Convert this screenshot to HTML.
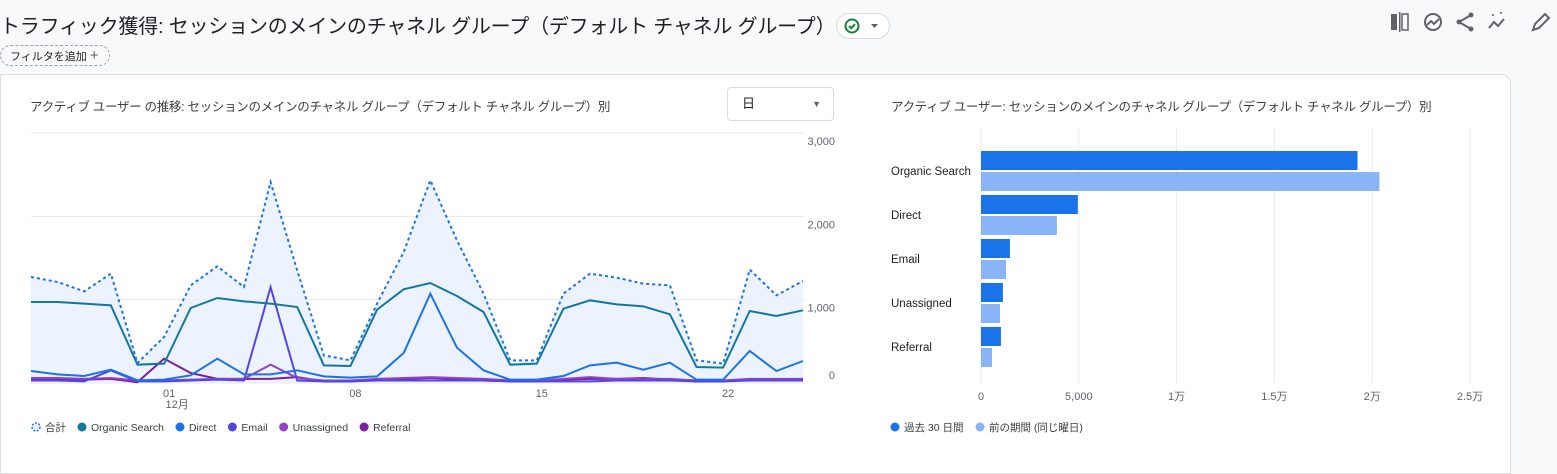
<!DOCTYPE html>
<html><head><meta charset="utf-8"><style>
body{margin:0;width:1557px;height:452px;background:#f8f9fa;font-family:"Liberation Sans","Noto Sans CJK JP",sans-serif;position:relative;overflow:hidden;color:#202124}
.abs{position:absolute}
</style></head><body>
<div class="abs" style="left:0;top:10px;font-size:20px;letter-spacing:-0.2px;color:#202124;white-space:nowrap">トラフィック獲得: セッションのメインのチャネル グループ（デフォルト チャネル グループ）</div>
<div class="abs" style="left:836px;top:13px;width:52px;height:24px;border:1px solid #dadce0;border-radius:13px;background:#fff">
<svg width="52" height="24"><circle cx="15" cy="12" r="6.5" fill="none" stroke="#188038" stroke-width="2"/><path d="M12 12l2.2 2.2 3.8-4" stroke="#188038" stroke-width="2" fill="none"/><path d="M34 10h7l-3.5 4z" fill="#5f6368"/></svg></div>
<div class="abs" style="left:0;top:45px;width:110px;height:21px;border:1px dashed #9aa0a6;border-radius:11px;font-size:11px;line-height:20px;padding-left:9px;box-sizing:border-box">フィルタを追加 <span style="font-size:15px;color:#5f6368">+</span></div>
<svg class="abs" style="left:1385px;top:8px" width="170" height="30">
<g><rect x="6" y="6" width="6" height="16" fill="#5f6368"/><rect x="14" y="4" width="1.5" height="20" fill="#5f6368"/><rect x="17" y="6" width="6" height="16" fill="none" stroke="#5f6368" stroke-width="1.5"/></g>
<g><circle cx="48" cy="14" r="8" fill="none" stroke="#5f6368" stroke-width="2"/><path d="M42 17l4-4 3 3 5-5" stroke="#5f6368" stroke-width="2" fill="none"/></g>
<g><circle cx="86" cy="7" r="2.5" fill="#5f6368"/><circle cx="74" cy="14" r="2.5" fill="#5f6368"/><circle cx="86" cy="21" r="2.5" fill="#5f6368"/><path d="M86 7L74 14 86 21" stroke="#5f6368" stroke-width="2" fill="none"/></g>
<g><path d="M104 20l5-6 4 4 6-7" stroke="#5f6368" stroke-width="2" fill="none"/><circle cx="108" cy="7" r="1" fill="#5f6368"/><circle cx="116" cy="5" r="1" fill="#5f6368"/></g>
<g><path d="M148 22l2-6 10-10 4 4-10 10z" stroke="#5f6368" stroke-width="2" fill="none"/></g>
</svg>
<div class="abs" style="left:0;top:74px;width:1511px;height:400px;background:#fff;border:1px solid #dadce0;border-radius:0 10px 0 0;box-sizing:border-box"></div>
<div class="abs" style="left:30px;top:96px;font-size:12.5px;letter-spacing:-0.3px;color:#3c4043;white-space:nowrap">アクティブ ユーザー の推移: セッションのメインのチャネル グループ（デフォルト チャネル グループ）別</div>
<div class="abs" style="left:727px;top:87px;width:107px;height:34px;border:1px solid #dadce0;border-radius:4px;box-sizing:border-box;font-size:13px;line-height:32px;padding-left:14px">日<span style="position:absolute;right:12px;top:0;font-size:9px;color:#5f6368">▼</span></div>
<div class="abs" style="left:891px;top:96px;font-size:12.5px;letter-spacing:-0.3px;color:#3c4043;white-space:nowrap">アクティブ ユーザー: セッションのメインのチャネル グループ（デフォルト チャネル グループ）別</div>
<svg id="svg" class="abs" style="left:0;top:0" width="1557" height="452"></svg>
<script>
const dates=['','','','','','01','','','','','','','08','','','','','','','15','','','','','','','22','','',''];
const totalVals=[1272,1212,1100,1312,240,552,1172,1400,1152,2412,1352,332,272,952,1572,2432,1712,1072,272,272,1072,1312,1264,1192,1172,272,232,1360,1052,1224];
const organicVals=[972,972,952,932,220,232,900,1020,980,952,912,212,204,880,1124,1200,1044,852,220,232,892,992,944,920,824,192,184,864,804,872];
const directVals=[144,104,84,160,32,40,92,292,104,104,152,80,64,80,360,1072,424,152,40,40,84,212,244,160,244,40,40,384,144,264];
const emailVals=[30,30,20,150,20,20,30,40,30,1150,30,20,20,30,30,30,30,30,20,20,20,20,30,30,30,20,20,30,30,30];
const unassignedVals=[60,60,50,60,30,30,40,50,50,220,60,30,30,50,60,70,60,50,30,30,50,70,50,50,50,30,30,50,50,50];
const referralVals=[40,40,40,50,10,292,120,50,50,50,70,20,20,40,50,60,50,30,20,20,40,50,50,60,40,20,20,40,40,50];
const yTicks=[0,1000,2000,3000];
const yTickLabels=['0','1,000','2,000','3,000'];
const channels=['Organic Search','Direct','Email','Unassigned','Referral'];
const currentVals=[19250,4950,1480,1120,1020];
const previousVals=[20370,3880,1280,970,560];
const xTicks=[0,5000,10000,15000,20000,25000];
const xTickLabels=['0','5,000','1万','1.5万','2万','2.5万'];

const svg=document.getElementById('svg');const NS='http://www.w3.org/2000/svg';
function mk(t,a,p){const e=document.createElementNS(NS,t);for(const k in a)e.setAttribute(k,a[k]);(p||svg).appendChild(e);return e;}
const X0=31,X1=803,Y0=383,Y1=133;
const lx=i=>X0+i*(X1-X0)/(totalVals.length-1);
const ly=v=>Y0-v/3000*(Y0-Y1);
yTicks.forEach((t,i)=>{const g=mk('line',{x1:31,x2:805,y1:ly(t),y2:ly(t),stroke:'#e8eaed'});

const tx=mk('text',{x:835,y:ly(t)+(t==0?-4:12),'text-anchor':'end','font-size':11,fill:'#5f6368'});tx.textContent=yTickLabels[i];
});
function pts(a){return a.map((v,i)=>lx(i)+','+ly(v)).join(' ');}
const area=mk('polygon',{points:lx(0)+','+Y0+' '+pts(totalVals)+' '+lx(totalVals.length-1)+','+Y0,fill:'#e8f0fe',opacity:0.8});

const series=[[referralVals,'#7b1fa2','referral-line'],[unassignedVals,'#8e44c9','unassigned-line'],[emailVals,'#5446e0','email-line'],[directVals,'#1a73e8','direct-line'],[organicVals,'#12789e','organic-search-line']];
series.forEach(s=>{const l=mk('polyline',{points:pts(s[0]),fill:'none',stroke:s[1],'stroke-width':2});
});
const tl=mk('polyline',{points:pts(totalVals),fill:'none',stroke:'#1a73e8','stroke-width':2,'stroke-dasharray':'3,3'});

dates.forEach((d,i)=>{if(!d)return;const t=mk('text',{x:lx(i)+5,y:397,'text-anchor':'middle','font-size':11,fill:'#5f6368'});t.textContent=d;
});
const m=mk('text',{x:lx(5)+13,y:408,'text-anchor':'middle','font-size':11,fill:'#5f6368'});m.textContent='12月';

const leg=[['合計','#1a73e8',1],['Organic Search','#12789e'],['Direct','#1a73e8'],['Email','#5446e0'],['Unassigned','#8e44c9'],['Referral','#7b1fa2']];
let lxp=31;
leg.forEach(l=>{const c=mk('circle',l[2]?{cx:lxp+5,cy:427,r:4,fill:'#e8f0fe',stroke:l[1],'stroke-dasharray':'2,1.5','stroke-width':1.5}:{cx:lxp+5,cy:427,r:4.5,fill:l[1]});

const t=mk('text',{x:lxp+14,y:431,'font-size':10.5,fill:'#3c4043'});t.textContent=l[0];

lxp+=14+t.getComputedTextLength()+11;});
const B0=981,B1=1470,BT=150,band=44;
const bx=v=>B0+v/25000*(B1-B0);
xTicks.forEach((t,i)=>{const g=mk('line',{x1:bx(t),x2:bx(t),y1:128,y2:383,stroke:'#e8eaed'});

const tx=mk('text',{x:bx(t),y:400,'text-anchor':'middle','font-size':11,fill:'#5f6368'});tx.textContent=xTickLabels[i];
});
channels.forEach((c,i)=>{const y=BT+i*band;
const t=mk('text',{x:891,y:y+25,'font-size':11.5,fill:'#202124'});t.textContent=c;

const r1=mk('rect',{x:B0,y:y+1,width:bx(currentVals[i])-B0,height:19,fill:'#1a73e8'});

const r2=mk('rect',{x:B0,y:y+22,width:bx(previousVals[i])-B0,height:19,fill:'#8ab4f8'});
});
const bl=[['過去 30 日間','#1a73e8',891],['前の期間 (同じ曜日)','#8ab4f8',976]];
bl.forEach(l=>{const c=mk('circle',{cx:l[2]+4,cy:427,r:4.5,fill:l[1]});

const t=mk('text',{x:l[2]+13,y:431,'font-size':10.5,fill:'#3c4043'});t.textContent=l[0];
});
</script>
</body></html>
